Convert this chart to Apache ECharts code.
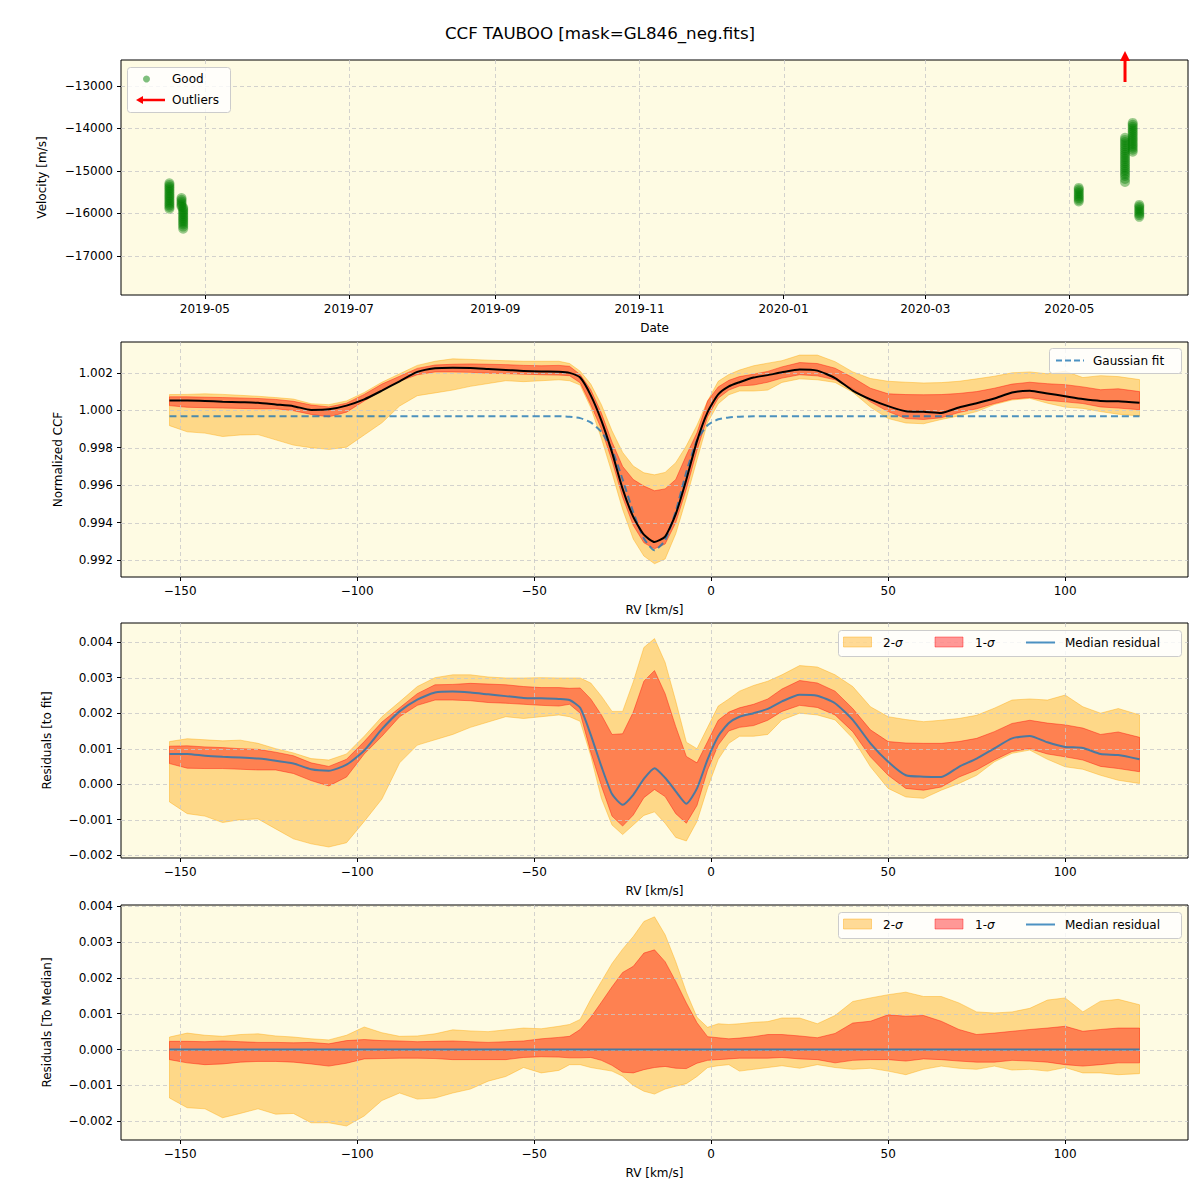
<!DOCTYPE html>
<html><head><meta charset="utf-8">
<script src="https://cdn.jsdelivr.net/npm/echarts@6/dist/echarts.min.js"></script>
<style>html,body{margin:0;padding:0;background:#fff}#c{width:1200px;height:1200px}</style>
</head><body><div id="c"></div>
<script>
// ---------------- DATA ----------------
const TITLE = 'CCF TAUBOO [mask=GL846_neg.fits]';

// Panel 1: velocity time series (night timestamp, velocity m/s)
const GOOD = [
  ['2019-04-16T00:00',-15290],['2019-04-16T00:00',-15330],['2019-04-16T00:00',-15370],['2019-04-16T00:00',-15410],
  ['2019-04-16T00:00',-15450],['2019-04-16T00:00',-15490],['2019-04-16T00:00',-15530],['2019-04-16T00:00',-15570],
  ['2019-04-16T00:00',-15610],['2019-04-16T00:00',-15650],['2019-04-16T00:00',-15690],['2019-04-16T00:00',-15730],
  ['2019-04-16T00:00',-15770],['2019-04-16T00:00',-15810],['2019-04-16T00:00',-15850],['2019-04-16T00:00',-15890],
  ['2019-04-21T03:00',-15640],['2019-04-21T03:00',-15680],['2019-04-21T03:00',-15720],['2019-04-21T03:00',-15760],
  ['2019-04-21T03:00',-15800],['2019-04-21T03:00',-15840],
  ['2019-04-21T20:00',-15860],['2019-04-21T20:00',-15900],['2019-04-21T20:00',-15940],['2019-04-21T20:00',-15980],
  ['2019-04-21T20:00',-16020],['2019-04-21T20:00',-16060],['2019-04-21T20:00',-16100],['2019-04-21T20:00',-16140],
  ['2019-04-21T20:00',-16180],['2019-04-21T20:00',-16220],['2019-04-21T20:00',-16260],['2019-04-21T20:00',-16310],['2019-04-21T20:00',-16360],
  ['2020-05-05T00:00',-15400],['2020-05-05T00:00',-15440],['2020-05-05T00:00',-15480],['2020-05-05T00:00',-15520],
  ['2020-05-05T00:00',-15560],['2020-05-05T00:00',-15600],['2020-05-05T00:00',-15640],['2020-05-05T00:00',-15680],['2020-05-05T00:00',-15720],
  ['2020-05-24T14:00',-14220],['2020-05-24T14:00',-14270],['2020-05-24T14:00',-14320],['2020-05-24T14:00',-14370],
  ['2020-05-24T14:00',-14420],['2020-05-24T14:00',-14470],['2020-05-24T14:00',-14520],['2020-05-24T14:00',-14570],
  ['2020-05-24T14:00',-14620],['2020-05-24T14:00',-14670],['2020-05-24T14:00',-14720],['2020-05-24T14:00',-14770],
  ['2020-05-24T14:00',-14820],['2020-05-24T14:00',-14870],['2020-05-24T14:00',-14920],['2020-05-24T14:00',-14970],
  ['2020-05-24T14:00',-15020],['2020-05-24T14:00',-15070],['2020-05-24T14:00',-15120],['2020-05-24T14:00',-15190],['2020-05-24T14:00',-15260],
  ['2020-05-27T20:00',-13870],['2020-05-27T20:00',-13915],['2020-05-27T20:00',-13960],['2020-05-27T20:00',-14005],
  ['2020-05-27T20:00',-14050],['2020-05-27T20:00',-14095],['2020-05-27T20:00',-14140],['2020-05-27T20:00',-14185],
  ['2020-05-27T20:00',-14230],['2020-05-27T20:00',-14275],['2020-05-27T20:00',-14320],['2020-05-27T20:00',-14365],
  ['2020-05-27T20:00',-14410],['2020-05-27T20:00',-14455],['2020-05-27T20:00',-14500],['2020-05-27T20:00',-14550],
  ['2020-05-30T15:00',-15800],['2020-05-30T15:00',-15840],['2020-05-30T15:00',-15880],['2020-05-30T15:00',-15920],
  ['2020-05-30T15:00',-15960],['2020-05-30T15:00',-16000],['2020-05-30T15:00',-16040],['2020-05-30T15:00',-16080]
];
const OUTLIER_DATES = ['2020-05-24T14:00'];
const DATE_TICKS = ['2019-05-01','2019-07-01','2019-09-01','2019-11-01','2020-01-01','2020-03-01','2020-05-01'];
const VEL_TICKS = [-17000,-16000,-15000,-14000,-13000];

// RV grid shared by panels 2-4
const RV = [-153,-148,-143,-138,-133,-128,-123,-118,-113,-108,-103,-98,-93,-88,-83,-78,-73,-68,-63,-58,-53,-48,-43,
  -40,-37,-34,-31,-28,-25,-22,-19,-16,-13,-10,-7,-4,-1,2,5,8,
  12,16,20,25,30,35,40,45,50,55,60,65,70,75,80,85,90,95,100,105,110,115,121];
const RV_TICKS = [-150,-100,-50,0,50,100];

// Panel 2: normalized CCF
const CCF_MED = [1.00052,1.00052,1.00050,1.00046,1.00043,1.00040,1.00031,1.00022,1.00002,1.00005,1.00025,1.00058,1.00105,1.00155,1.00205,1.00225,1.00228,1.00226,1.00221,1.00216,1.00210,1.00207,1.00206,
  1.00200,1.00175,1.00080,0.99945,0.99775,0.99580,0.99430,0.99335,0.99296,0.99325,0.99445,0.99630,0.99835,0.99990,1.00085,1.00128,1.00150,
  1.00175,1.00188,1.00203,1.00218,1.00212,1.00172,1.00105,1.00058,1.00022,0.99995,0.99992,0.99986,1.00015,1.00038,1.00063,1.00095,1.00105,1.00090,1.00075,1.00060,1.00050,1.00048,1.00040];
const CCF_2U = [1.00084,1.00085,1.00088,1.00085,1.00080,1.00075,1.00068,1.00060,1.00035,1.00030,1.00050,1.00095,1.00150,1.00195,1.00240,1.00262,1.00275,1.00272,1.00268,1.00265,1.00262,1.00262,1.00262,
  1.00250,1.00209,1.00140,1.00030,0.99890,0.99775,0.99702,0.99666,0.99655,0.99668,0.99720,0.99810,0.99920,1.00050,1.00155,1.00191,1.00215,
  1.00238,1.00252,1.00265,1.00295,1.00295,1.00260,1.00205,1.00170,1.00155,1.00150,1.00146,1.00148,1.00155,1.00168,1.00182,1.00200,1.00205,1.00195,1.00209,1.00175,1.00185,1.00180,1.00164];
const CCF_1U = [1.00072,1.00072,1.00070,1.00068,1.00066,1.00063,1.00058,1.00048,1.00028,1.00018,1.00038,1.00085,1.00140,1.00182,1.00224,1.00242,1.00246,1.00248,1.00246,1.00244,1.00240,1.00238,1.00240,
  1.00235,1.00191,1.00110,0.99985,0.99830,0.99700,0.99630,0.99595,0.99570,0.99580,0.99630,0.99760,0.99880,1.00050,1.00125,1.00160,1.00180,
  1.00193,1.00208,1.00232,1.00255,1.00250,1.00225,1.00175,1.00118,1.00088,1.00084,1.00083,1.00084,1.00090,1.00100,1.00118,1.00140,1.00150,1.00142,1.00137,1.00125,1.00110,1.00115,1.00100];
const CCF_1L = [1.00025,1.00016,1.00014,1.00012,1.00010,1.00008,1.00008,0.99998,0.99978,0.99965,0.99990,1.00050,1.00105,1.00155,1.00190,1.00205,1.00205,1.00203,1.00198,1.00196,1.00193,1.00190,1.00188,
  1.00185,1.00147,1.00030,0.99900,0.99730,0.99535,0.99385,0.99292,0.99260,0.99285,0.99400,0.99580,0.99785,0.99965,1.00065,1.00108,1.00130,
  1.00135,1.00150,1.00172,1.00190,1.00184,1.00163,1.00115,1.00045,0.99993,0.99956,0.99951,0.99960,0.99988,1.00008,1.00036,1.00060,1.00068,1.00053,1.00045,1.00036,1.00018,1.00012,1.00003];
const CCF_2L = [0.99918,0.99885,0.99878,0.99860,0.99868,0.99870,0.99842,0.99814,0.99800,0.99791,0.99803,0.99868,0.99933,1.00023,1.00078,1.00093,1.00108,1.00128,1.00143,1.00158,1.00153,1.00158,1.00163,
  1.00158,1.00135,1.00015,0.99850,0.99665,0.99470,0.99312,0.99221,0.99180,0.99205,0.99340,0.99530,0.99735,0.99935,1.00035,1.00083,1.00103,
  1.00103,1.00108,1.00149,1.00168,1.00163,1.00149,1.00097,1.00017,0.99956,0.99932,0.99928,0.99951,0.99970,0.99993,1.00031,1.00055,1.00064,1.00038,1.00017,1.00010,0.99993,0.99979,0.99970];
const GAUSS = [0.99968,0.99968,0.99968,0.99968,0.99968,0.99968,0.99968,0.99968,0.99968,0.99968,0.99968,0.99968,0.99968,0.99968,0.99968,0.99968,0.99968,0.99968,0.99968,0.99968,0.99968,0.99968,0.99968,
  0.99965,0.99958,0.99935,0.99885,0.99790,0.99630,0.99455,0.99315,0.99252,0.99305,0.99460,0.99670,0.99840,0.99920,0.99952,0.99962,0.99966,
  0.99968,0.99968,0.99968,0.99968,0.99968,0.99968,0.99968,0.99968,0.99968,0.99968,0.99968,0.99968,0.99968,0.99968,0.99968,0.99968,0.99968,0.99968,0.99968,0.99968,0.99968,0.99968,0.99968];
const CCF_TICKS = [0.992,0.994,0.996,0.998,1.000,1.002];

// Panel 3: residuals to fit
const RES_MED = [0.00085,0.00085,0.00080,0.00077,0.00075,0.00072,0.00066,0.00058,0.00042,0.00038,0.00055,0.00095,0.00155,0.00205,0.00238,0.00258,0.00261,0.00258,0.00253,0.00248,0.00243,0.00242,0.00240,
  0.00237,0.00215,0.00139,0.00050,-0.00028,-0.00058,-0.00030,0.00015,0.00045,0.00018,-0.00020,-0.00055,-0.00012,0.00070,0.00135,0.00172,0.00190,
  0.00200,0.00212,0.00233,0.00252,0.00249,0.00228,0.00181,0.00115,0.00063,0.00025,0.00021,0.00020,0.00049,0.00072,0.00101,0.00129,0.00136,0.00118,0.00105,0.00102,0.00085,0.00082,0.00070];
const RES_2U = [0.00120,0.00128,0.00125,0.00122,0.00124,0.00115,0.00100,0.00088,0.00072,0.00068,0.00085,0.00135,0.00190,0.00232,0.00275,0.00300,0.00308,0.00308,0.00302,0.00299,0.00299,0.00300,0.00299,
  0.00299,0.00299,0.00285,0.00248,0.00205,0.00205,0.00288,0.00385,0.00410,0.00343,0.00234,0.00118,0.00100,0.00160,0.00220,0.00240,0.00262,
  0.00278,0.00290,0.00308,0.00334,0.00330,0.00308,0.00275,0.00218,0.00190,0.00182,0.00176,0.00180,0.00185,0.00194,0.00214,0.00237,0.00240,0.00237,0.00251,0.00218,0.00200,0.00213,0.00195];
const RES_1U = [0.00107,0.00108,0.00105,0.00103,0.00100,0.00098,0.00090,0.00080,0.00060,0.00050,0.00070,0.00120,0.00175,0.00215,0.00255,0.00280,0.00281,0.00284,0.00282,0.00280,0.00275,0.00272,0.00272,
  0.00270,0.00271,0.00240,0.00195,0.00140,0.00142,0.00203,0.00290,0.00320,0.00255,0.00162,0.00078,0.00060,0.00120,0.00180,0.00203,0.00215,
  0.00225,0.00240,0.00268,0.00292,0.00285,0.00262,0.00213,0.00153,0.00120,0.00116,0.00115,0.00115,0.00120,0.00129,0.00148,0.00171,0.00180,0.00172,0.00167,0.00158,0.00140,0.00147,0.00132];
const RES_1L = [0.00058,0.00045,0.00044,0.00044,0.00042,0.00040,0.00040,0.00030,0.00010,-0.00005,0.00020,0.00085,0.00135,0.00190,0.00222,0.00237,0.00237,0.00235,0.00230,0.00228,0.00225,0.00222,0.00220,
  0.00225,0.00200,0.00090,-0.00005,-0.00090,-0.00118,-0.00087,-0.00038,-0.00015,-0.00035,-0.00083,-0.00110,-0.00060,0.00040,0.00110,0.00150,0.00160,
  0.00165,0.00180,0.00205,0.00222,0.00216,0.00195,0.00148,0.00077,0.00025,-0.00012,-0.00017,-0.00008,0.00020,0.00040,0.00068,0.00092,0.00100,0.00085,0.00077,0.00068,0.00050,0.00044,0.00035];
const RES_2L = [-0.00050,-0.00083,-0.00090,-0.00108,-0.00100,-0.00098,-0.00126,-0.00154,-0.00168,-0.00177,-0.00165,-0.00105,-0.00042,0.00060,0.00110,0.00125,0.00140,0.00160,0.00175,0.00190,0.00185,0.00190,0.00195,
  0.00190,0.00177,0.00080,-0.00040,-0.00115,-0.00142,-0.00115,-0.00088,-0.00078,-0.00110,-0.00150,-0.00160,-0.00105,-0.00010,0.00070,0.00115,0.00135,
  0.00135,0.00140,0.00181,0.00200,0.00195,0.00181,0.00129,0.00049,-0.00012,-0.00036,-0.00040,-0.00017,0.00002,0.00025,0.00063,0.00087,0.00096,0.00070,0.00049,0.00042,0.00025,0.00011,0.00002];
const RES_TICKS = [-0.002,-0.001,0.000,0.001,0.002,0.003,0.004];

// Panel 4: residuals to median
const MRES_MED = [0,0,0,0,0,0,0,0,0,0,0,0,0,0,0,0,0,0,0,0,0,0,0,
  0,0,0,0,0,0,0,0,0,0,0,0,0,0,0,0,0,
  0,0,0,0,0,0,0,0,0,0,0,0,0,0,0,0,0,0,0,0,0,0,0];
const MRES_2U = [0.00035,0.00046,0.00040,0.00037,0.00042,0.00044,0.00038,0.00035,0.00030,0.00027,0.00040,0.00063,0.00047,0.00037,0.00038,0.00044,0.00055,0.00052,0.00050,0.00055,0.00060,0.00058,0.00065,
  0.00070,0.00084,0.00140,0.00190,0.00240,0.00280,0.00315,0.00357,0.00370,0.00320,0.00245,0.00160,0.00090,0.00062,0.00072,0.00070,0.00072,
  0.00076,0.00078,0.00088,0.00088,0.00072,0.00095,0.00134,0.00144,0.00153,0.00160,0.00148,0.00148,0.00130,0.00105,0.00102,0.00105,0.00115,0.00138,0.00144,0.00105,0.00135,0.00140,0.00125];
const MRES_1U = [0.00023,0.00023,0.00022,0.00024,0.00022,0.00020,0.00020,0.00019,0.00020,0.00016,0.00025,0.00028,0.00025,0.00024,0.00022,0.00023,0.00024,0.00022,0.00020,0.00022,0.00024,0.00030,0.00034,
  0.00037,0.00056,0.00090,0.00132,0.00175,0.00215,0.00232,0.00269,0.00278,0.00245,0.00190,0.00130,0.00075,0.00036,0.00033,0.00030,0.00032,
  0.00036,0.00042,0.00042,0.00038,0.00033,0.00045,0.00074,0.00079,0.00097,0.00093,0.00095,0.00079,0.00056,0.00042,0.00046,0.00051,0.00056,0.00060,0.00065,0.00051,0.00056,0.00060,0.00060];
const MRES_1L = [-0.00028,-0.00037,-0.00042,-0.00040,-0.00035,-0.00033,-0.00033,-0.00035,-0.00040,-0.00046,-0.00038,-0.00026,-0.00025,-0.00024,-0.00024,-0.00025,-0.00028,-0.00028,-0.00028,-0.00028,-0.00022,-0.00020,-0.00021,
  -0.00023,-0.00023,-0.00022,-0.00030,-0.00044,-0.00063,-0.00065,-0.00056,-0.00050,-0.00047,-0.00052,-0.00053,-0.00038,-0.00030,-0.00028,-0.00026,-0.00024,
  -0.00024,-0.00024,-0.00022,-0.00026,-0.00028,-0.00037,-0.00030,-0.00028,-0.00028,-0.00032,-0.00026,-0.00028,-0.00032,-0.00035,-0.00035,-0.00030,-0.00032,-0.00035,-0.00042,-0.00046,-0.00042,-0.00037,-0.00037];
const MRES_2L = [-0.00135,-0.00162,-0.00165,-0.00190,-0.00178,-0.00165,-0.00180,-0.00178,-0.00204,-0.00204,-0.00213,-0.00185,-0.00142,-0.00121,-0.00138,-0.00135,-0.00121,-0.00110,-0.00088,-0.00075,-0.00050,-0.00065,-0.00058,
  -0.00042,-0.00042,-0.00050,-0.00055,-0.00060,-0.00074,-0.00100,-0.00116,-0.00124,-0.00110,-0.00102,-0.00095,-0.00075,-0.00050,-0.00045,-0.00042,-0.00060,
  -0.00055,-0.00050,-0.00045,-0.00052,-0.00042,-0.00050,-0.00055,-0.00052,-0.00060,-0.00070,-0.00055,-0.00046,-0.00052,-0.00055,-0.00046,-0.00057,-0.00055,-0.00060,-0.00050,-0.00065,-0.00065,-0.00070,-0.00067];
const MRES_TICKS = [-0.002,-0.001,0.000,0.001,0.002,0.003,0.004];

// ---------------- STYLE / LAYOUT ----------------
const FONT = 'DejaVu Sans';
const BG = '#fefbe3';
const C_2S = 'rgba(255,165,0,0.4)';
const C_1S = 'rgba(255,0,0,0.4)';
const C_BLUE = 'rgba(31,119,180,0.8)';
const GRID_LINE = {stroke:'#c8c8c8', lineWidth:0.8, lineDash:[4,3]};
const ts = s => Date.parse(s.length > 10 ? s + ':00Z' : s + 'T00:00:00Z');
const T_MIN = Date.UTC(2019,2,26,12), T_MAX = Date.UTC(2020,5,20,6);
const Y_RANGES = [[-17920,-12390],[0.99109,1.00365],[-0.00208,0.00454],[-0.00252,0.00403]];
const X_RV_RANGE = [-166.7,134.7];
const minus = s => s.replace('-', '\u2212');

const grids = [60,342,623,905].map(t => ({left:121, top:t, width:1067, height:235, show:true,
  backgroundColor:BG, borderColor:'#000', borderWidth:1}));

const txt = {color:'#000', fontFamily:FONT, fontSize:12};
function xAxisCfg(i, ticks, range, fmt, name){
  return {type:'value', gridIndex:i, min:range[0], max:range[1],
    axisLine:{show:false, onZero:false}, splitLine:{show:false},
    axisTick:{show:true, customValues:ticks, length:4, lineStyle:{color:'#000', width:1}},
    axisLabel:Object.assign({customValues:ticks, formatter:fmt, margin:8}, txt),
    name:name, nameLocation:'middle', nameGap:27, nameTextStyle:txt};
}
function yAxisCfg(i, ticks, range, fmt, name, gap){
  return {type:'value', gridIndex:i, min:range[0], max:range[1],
    axisLine:{show:false, onZero:false}, splitLine:{show:false},
    axisTick:{show:true, customValues:ticks, length:4, lineStyle:{color:'#000', width:1}},
    axisLabel:Object.assign({customValues:ticks, formatter:fmt, margin:8}, txt),
    name:name, nameLocation:'middle', nameGap:gap, nameTextStyle:txt};
}
const dateFmt = v => { const d = new Date(v); return d.getUTCFullYear() + '-' + String(d.getUTCMonth()+1).padStart(2,'0'); };
const intFmt = v => minus(String(Math.round(v)));
const f3 = v => minus((Math.abs(v) < 1e-12 ? 0 : v).toFixed(3));
const rvFmt = v => minus(String(v));
const dateTicks = DATE_TICKS.map(ts);

function gridSeries(i, xt, yt){
  return {type:'custom', xAxisIndex:i, yAxisIndex:i, silent:true, z:3, clip:false,
    data:[[xt[0], yt[0]]],
    renderItem:(p, api) => {
      const cs = p.coordSys, ch = [];
      xt.forEach(v => { const x = Math.round(api.coord([v, yt[0]])[0]) + 0.5;
        ch.push({type:'line', shape:{x1:x, y1:cs.y, x2:x, y2:cs.y+cs.height}, style:GRID_LINE}); });
      yt.forEach(v => { const y = Math.round(api.coord([xt[0], v])[1]) + 0.5;
        ch.push({type:'line', shape:{x1:cs.x, y1:y, x2:cs.x+cs.width, y2:y}, style:GRID_LINE}); });
      return {type:'group', children:ch};
    }};
}
function band(i, lo, hi, fill){
  return {type:'custom', xAxisIndex:i, yAxisIndex:i, silent:true, z:2,
    data:[[RV[0], lo[0]]],
    renderItem:(p, api) => {
      const top = [], bot = [];
      for (let k = 0; k < RV.length; k++) top.push(api.coord([RV[k], hi[k]]));
      for (let k = RV.length-1; k >= 0; k--) bot.push(api.coord([RV[k], lo[k]]));
      return {type:'group', children:[
        {type:'polygon', shape:{points:top.concat(bot)}, style:{fill:fill, stroke:fill, lineWidth:1}}
      ]};
    }};
}
function line(i, ys, color, width, dash){
  return {type:'line', xAxisIndex:i, yAxisIndex:i, silent:true, z:4, symbol:'none', showSymbol:false,
    smooth:0.2, data:RV.map((x,k) => [x, ys[k]]),
    lineStyle:{color:color, width:width, type: dash ? [7,4] : 'solid'}};
}

const series = [
  gridSeries(0, dateTicks, VEL_TICKS),
  {type:'scatter', xAxisIndex:0, yAxisIndex:0, z:4, silent:true, symbolSize:10,
    data:GOOD.map(([d,v]) => [ts(d), v]), itemStyle:{color:'rgba(0,128,0,0.5)'}},
  {type:'custom', xAxisIndex:0, yAxisIndex:0, z:5, silent:true, clip:false,
    data:OUTLIER_DATES.map(d => [ts(d), Y_RANGES[0][1]]),
    renderItem:(p, api) => {
      const c = api.coord([api.value(0), api.value(1)]);
      const x = c[0], top = c[1];
      return {type:'group', children:[
        {type:'line', shape:{x1:x, y1:top+22, x2:x, y2:top}, style:{stroke:'#ff0000', lineWidth:3}},
        {type:'polygon', shape:{points:[[x-5,top+1],[x+5,top+1],[x,top-9]]}, style:{fill:'#ff0000'}}
      ]};
    }},
  band(1, CCF_2L, CCF_2U, C_2S), band(1, CCF_1L, CCF_1U, C_1S),
  gridSeries(1, RV_TICKS, CCF_TICKS),
  line(1, GAUSS, C_BLUE, 2, true), line(1, CCF_MED, '#000', 2, false),
  band(2, RES_2L, RES_2U, C_2S), band(2, RES_1L, RES_1U, C_1S),
  gridSeries(2, RV_TICKS, RES_TICKS),
  line(2, RES_MED, C_BLUE, 2, false),
  band(3, MRES_2L, MRES_2U, C_2S), band(3, MRES_1L, MRES_1U, C_1S),
  gridSeries(3, RV_TICKS, MRES_TICKS),
  line(3, MRES_MED, C_BLUE, 2, false)
];

// legends drawn as graphics
function boxEl(x,y,w,h){ return {type:'rect', z:100, shape:{x:x, y:y, width:w, height:h, r:3},
  style:{fill:'rgba(255,255,255,0.8)', stroke:'#cccccc', lineWidth:1}}; }
function textEl(x,y,s){ return {type:'text', z:101, x:x, y:y, style:{text:s, fill:'#000', font:'12px "DejaVu Sans"', verticalAlign:'middle'}}; }
function sigmaEl(x,y,n){ return {type:'text', z:101, x:x, y:y, style:{text:'{a|'+n+'-}{b|σ}', verticalAlign:'middle',
  rich:{a:{fill:'#000', fontFamily:FONT, fontSize:12}, b:{fill:'#000', fontFamily:FONT, fontSize:12, fontStyle:'italic'}}}}; }
function resLegend(y0){
  return [boxEl(838.5,y0,343,26),
    {type:'rect', z:101, shape:{x:843.5, y:y0+6.5, width:28, height:10}, style:{fill:C_2S, stroke:C_2S}},
    sigmaEl(883, y0+12.5, '2'),
    {type:'rect', z:101, shape:{x:935, y:y0+6.5, width:28, height:10}, style:{fill:C_1S, stroke:C_1S}},
    sigmaEl(975, y0+12.5, '1'),
    {type:'line', z:101, shape:{x1:1026, y1:y0+12, x2:1055, y2:y0+12}, style:{stroke:C_BLUE, lineWidth:2}},
    textEl(1065, y0+12.5, 'Median residual')];
}
const graphics = [
  boxEl(127.5,67.5,103,45),
  {type:'circle', z:101, shape:{cx:146.5, cy:79, r:3.5}, style:{fill:'rgba(0,128,0,0.5)'}},
  textEl(172, 79, 'Good'),
  {type:'line', z:101, shape:{x1:165, y1:100, x2:141, y2:100}, style:{stroke:'#ff0000', lineWidth:2.5}},
  {type:'polygon', z:101, shape:{points:[[136,100],[143,96],[143,104]]}, style:{fill:'#ff0000'}},
  textEl(172, 100, 'Outliers'),
  boxEl(1049.5,348.5,132,25),
  {type:'line', z:101, shape:{x1:1056, y1:360.5, x2:1084, y2:360.5}, style:{stroke:C_BLUE, lineWidth:2, lineDash:[6,3]}},
  textEl(1093, 361, 'Gaussian fit')
].concat(resLegend(630.5), resLegend(912.5));

const option = {
  animation:false,
  backgroundColor:'#ffffff',
  title:{text:TITLE, left:'center', top:22, textStyle:{color:'#000', fontFamily:FONT, fontSize:16.7, fontWeight:'normal'}},
  grid:grids,
  xAxis:[
    xAxisCfg(0, dateTicks, [T_MIN, T_MAX], dateFmt, 'Date'),
    xAxisCfg(1, RV_TICKS, X_RV_RANGE, rvFmt, 'RV [km/s]'),
    xAxisCfg(2, RV_TICKS, X_RV_RANGE, rvFmt, 'RV [km/s]'),
    xAxisCfg(3, RV_TICKS, X_RV_RANGE, rvFmt, 'RV [km/s]')
  ],
  yAxis:[
    yAxisCfg(0, VEL_TICKS, Y_RANGES[0], intFmt, 'Velocity [m/s]', 73),
    yAxisCfg(1, CCF_TICKS, Y_RANGES[1], f3, 'Normalized CCF', 57),
    yAxisCfg(2, RES_TICKS, Y_RANGES[2], f3, 'Residuals [to fit]', 68),
    yAxisCfg(3, MRES_TICKS, Y_RANGES[3], f3, 'Residuals [To Median]', 68)
  ],
  series:series,
  graphic:graphics
};
option.title.top = 19;
const chart = echarts.init(document.getElementById('c'), null, {renderer:'svg', width:1200, height:1200});
chart.setOption(option);
</script></body></html>
